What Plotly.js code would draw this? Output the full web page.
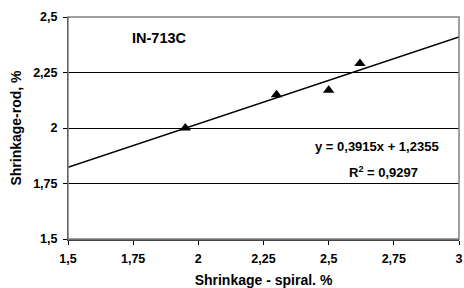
<!DOCTYPE html>
<html>
<head>
<meta charset="utf-8">
<script src="https://cdn.plot.ly/plotly-3.0.1.min.js"></script>
<style>html,body{margin:0;padding:0;background:#fff;}#chart{width:464px;height:288px;}
#chart .xtick text, #chart .ytick text{font-weight:bold !important;}</style>
</head>
<body>
<div id="chart"></div>
<script>
const spiral = [1.95, 2.30, 2.50, 2.62];
const rod = [2.00, 2.15, 2.17, 2.29];
const slope = 0.3915;
const intercept = 1.2355;
const r2 = 0.9297;
const xRange = [1.5, 3];
const xTickVals = [1.5, 1.75, 2, 2.25, 2.5, 2.75, 3];
const xTickText = ['1,5', '1,75', '2', '2,25', '2,5', '2,75', '3'];
const yTickVals = [1.5, 1.75, 2, 2.25, 2.5];
const yTickText = ['1,5', '1,75', '2', '2,25', '2,5'];
const seriesLabel = 'IN-713C';
const xTitle = 'Shrinkage - spiral. %';
const yTitle = 'Shrinkage-rod, %';

const fmt = v => String(v).replace('.', ',');
const bold = s => '<b>' + s + '</b>';
const trendX = xRange.slice();
const trendY = trendX.map(x => slope * x + intercept);

const FONT = 'Arial, "Liberation Sans", sans-serif';

const data = [
  {x: trendX, y: trendY, mode: 'lines', line: {color: '#000', width: 1.5}, hoverinfo: 'skip', showlegend: false},
  {x: spiral, y: rod, mode: 'markers', marker: {symbol: 'triangle-up', size: 10, color: '#000'}, showlegend: false}
];

const layout = {
  width: 464, height: 288,
  margin: {l: 68, r: 5, t: 17, b: 49},
  paper_bgcolor: '#fff', plot_bgcolor: '#fff',
  font: {family: FONT, color: '#000'},
  showlegend: false,
  xaxis: {
    range: xRange, tickvals: xTickVals, ticktext: xTickText,
    showgrid: false, zeroline: false,
    showline: true, linecolor: '#444', linewidth: 1.5,
    ticks: 'outside', ticklen: 4, tickcolor: '#000', tickwidth: 1,
    ticklabelstandoff: 3,
    tickfont: {family: FONT, size: 12.5, color: '#000', weight: 700},
    title: {text: bold(xTitle), font: {family: FONT, size: 14, color: '#000'}, standoff: 11},
    automargin: false
  },
  yaxis: {
    range: [1.5, 2.5], tickvals: yTickVals, ticktext: yTickText,
    showgrid: true, gridcolor: '#000', gridwidth: 1, zeroline: false,
    showline: true, linecolor: '#000', linewidth: 1,
    ticks: 'outside', ticklen: 4, tickcolor: '#000', tickwidth: 1,
    ticklabelstandoff: 3,
    tickfont: {family: FONT, size: 12.5, color: '#000', weight: 700},
    title: {text: bold(yTitle), font: {family: FONT, size: 14, color: '#000'}, standoff: 8},
    automargin: false
  },
  shapes: [
    {type: 'rect', xref: 'paper', yref: 'paper', x0: 0, x1: 1, y0: 0, y1: 1, line: {color: '#808080', width: 1.5}, layer: 'above'}
  ],
  annotations: [
    {x: 1.85, y: 2.404, xref: 'x', yref: 'y', text: bold(seriesLabel), showarrow: false, font: {family: FONT, size: 14.5, color: '#000'}},
    {x: 2.684, y: 1.918, xref: 'x', yref: 'y', text: bold('y = ' + fmt(slope) + 'x + ' + fmt(intercept)), showarrow: false, font: {family: FONT, size: 13, color: '#000'}},
    {x: 2.71, y: 1.802, xref: 'x', yref: 'y', text: bold('R<sup>2</sup> = ' + fmt(r2)), showarrow: false, font: {family: FONT, size: 13, color: '#000'}}
  ]
};

Plotly.newPlot('chart', data, layout, {staticPlot: true, displayModeBar: false});
</script>
</body>
</html>
